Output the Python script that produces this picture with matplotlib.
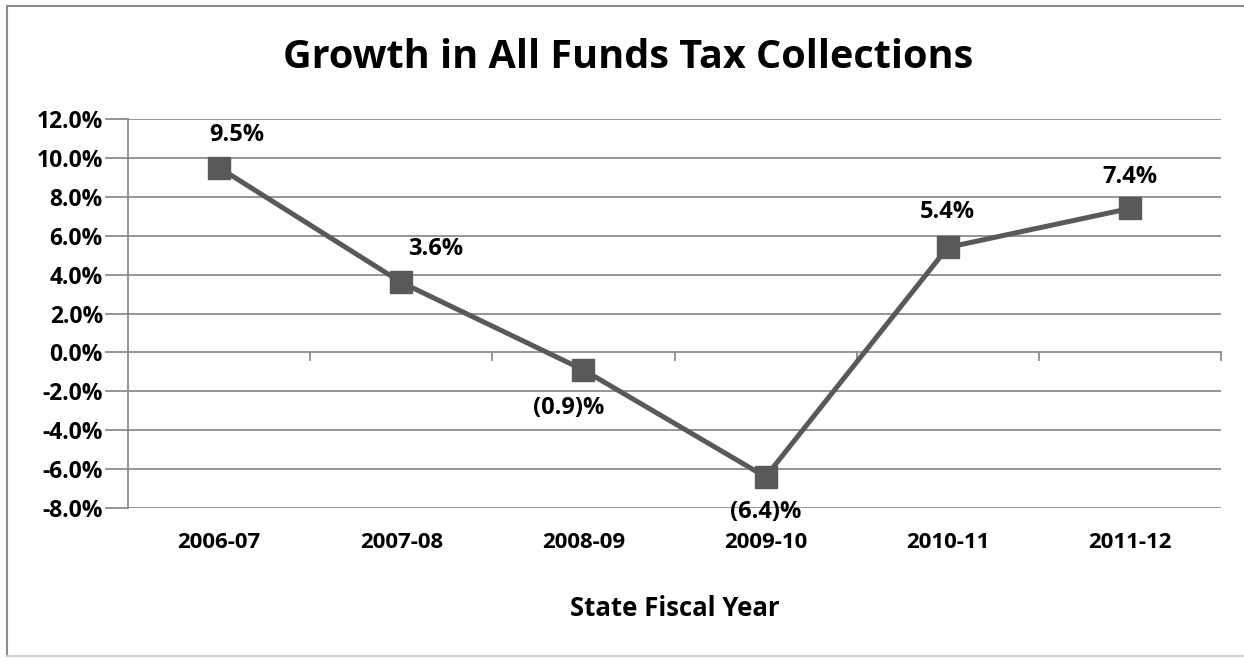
import matplotlib.pyplot as plt
import numpy as np

years = ['2006-07', '2007-08', '2008-09', '2009-10', '2010-11', '2011-12']
growth = [9.5, 3.6, -0.9, -6.4, 5.4, 7.4]
labels = ['9.5%', '3.6%', '(0.9)%', '(6.4)%', '5.4%', '7.4%']
# label offsets in pixels (dx, dy) relative to the point
offsets = [(18, 33), (34, 33), (-15, -38), (0, -35), (0, 35), (0, 31)]

plt.rcParams['font.family'] = ['Open Sans', 'DejaVu Sans']
plt.rcParams['font.weight'] = 'bold'

fig = plt.figure(figsize=(12.44, 6.58), dpi=100)
W, H = 1244, 658
ax = fig.add_axes([128 / W, 1 - 508 / H, (1221 - 128) / W, (508 - 119) / H])

grid_c = '#8c8c8c'
x = np.arange(len(years))
for v in np.arange(-8, 12.1, 2):
    ax.axhline(v, color=grid_c, lw=1.3, zorder=1)

ax.plot(x, growth, color='#595959', lw=3.6, marker='s', ms=16.5, zorder=3)

for xi, yi, lab, (dx, dy) in zip(x, growth, labels, offsets):
    ax.annotate(lab, (xi, yi), xytext=(dx * 0.72, dy * 0.72), textcoords='offset points',
                ha='center', va='center', fontsize=17, fontweight='bold', color='black')

ax.set_xlim(-0.5, 5.5)
ax.set_ylim(-8, 12)
ax.set_yticks(np.arange(-8, 12.1, 2))
ax.set_yticklabels(['%.1f%%' % v for v in np.arange(-8, 12.1, 2)], fontsize=16.5, fontweight='bold')
ax.tick_params(axis='y', length=0, pad=18)
ax.set_xticks([])
for s in ['top', 'right', 'bottom']:
    ax.spines[s].set_visible(False)
ax.spines['left'].set_color(grid_c)
ax.spines['left'].set_linewidth(1.3)

# category separator ticks on the zero line
for b in np.arange(0.5, 5.6, 1):
    ax.plot([b, b], [0, -0.4], color=grid_c, lw=1.3, zorder=1, clip_on=False)
for v in np.arange(-8, 12.1, 2):
    ax.plot([-0.5, -0.62], [v, v], color=grid_c, lw=1.3, clip_on=False)

for xi, yr in zip(x, years):
    ax.text(xi, -9.75, yr, ha='center', va='center', fontsize=16, fontweight='bold')

fig.text(675 / W, 1 - 608 / H, 'State Fiscal Year', ha='center', va='center', fontsize=18.5, fontweight='bold')
fig.text(628 / W, 1 - 57 / H, 'Growth in All Funds Tax Collections', ha='center', va='center',
         fontsize=28.5, fontweight='bold')

# chart frame: left and top edges gray, bottom edge faint, right edge cut off
fig.add_artist(plt.Line2D([7 / W, 7 / W], [1 - 6 / H, 1 - 656 / H], transform=fig.transFigure,
                          color='#8c8c8c', lw=1.5))
fig.add_artist(plt.Line2D([7 / W, 1.0], [1 - 6 / H, 1 - 6 / H], transform=fig.transFigure,
                          color='#8c8c8c', lw=1.5))
fig.add_artist(plt.Line2D([7 / W, 1.0], [1 - 656 / H, 1 - 656 / H], transform=fig.transFigure,
                          color='#d0d0d0', lw=1.5))

fig.savefig('out.png', dpi=100)
